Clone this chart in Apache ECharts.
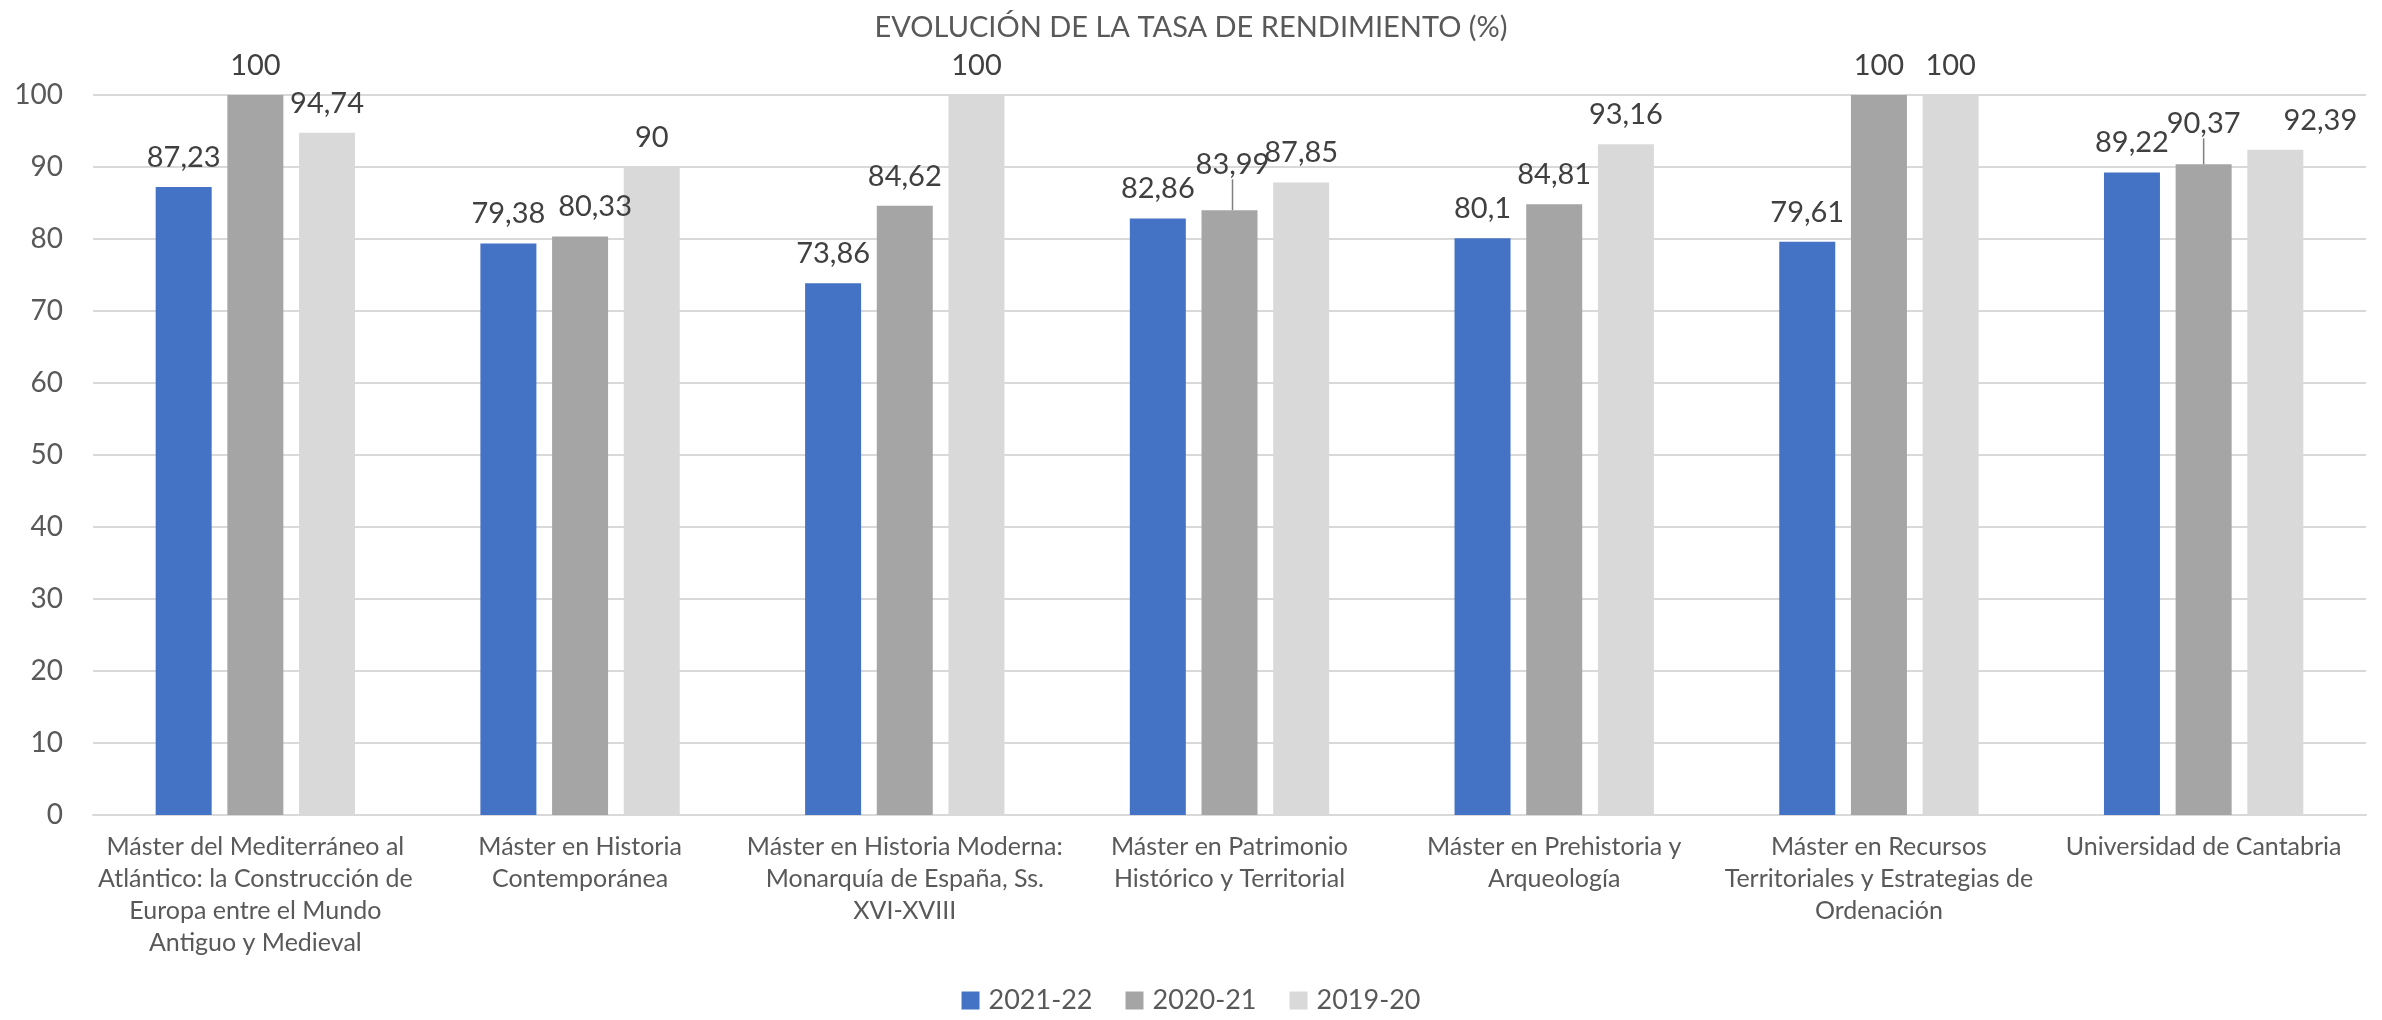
<!DOCTYPE html>
<html>
<head>
<meta charset="utf-8">
<script src="https://cdn.jsdelivr.net/npm/echarts@6/dist/echarts.min.js"></script>
<style>
  html, body { margin: 0; padding: 0; background: #fff; }
  #chart { width: 2382px; height: 1020px; }
</style>
</head>
<body>
<div id="chart"></div>
<script>
const categories = [
  'Máster del Mediterráneo al\nAtlántico: la Construcción de\nEuropa entre el Mundo\nAntiguo y Medieval',
  'Máster en Historia\nContemporánea',
  'Máster en Historia Moderna:\nMonarquía de España, Ss.\nXVI-XVIII',
  'Máster en Patrimonio\nHistórico y Territorial',
  'Máster en Prehistoria y\nArqueología',
  'Máster en Recursos\nTerritoriales y Estrategias de\nOrdenación',
  'Universidad de Cantabria'
]
const values2122 = [87.23, 79.38, 73.86, 82.86, 80.1, 79.61, 89.22]
const values2021 = [100, 80.33, 84.62, 83.99, 84.81, 100, 90.37]
const values1920 = [94.74, 90, 100, 87.85, 93.16, 100, 92.39]
// labels of 2020-21 that were pushed up with a leader line
const movedLabels = [3, 6]

const fontFamily = 'Lato, sans-serif'
const fmt = (p) => String(p.value).replace('.', ',')

const barLabel = {
  show: true,
  position: 'top',
  distance: 15,
  color: '#404040',
  fontSize: 29,
  fontFamily: fontFamily,
  formatter: fmt
}

const data2021 = values2021.map((v, i) =>
  movedLabels.includes(i) ? { value: v, labelLine: { show: true } } : v
)

const chart = echarts.init(document.getElementById('chart'))
chart.setOption({
  animation: false,
  backgroundColor: '#fff',
  textStyle: { fontFamily: fontFamily },
  title: {
    text: 'EVOLUCIÓN DE LA TASA DE RENDIMIENTO (%)',
    left: 'center',
    top: 8,
    textStyle: { color: '#595959', fontSize: 29, fontWeight: 'normal', fontFamily: fontFamily }
  },
  legend: {
    bottom: 1,
    left: 'center',
    icon: 'rect',
    itemWidth: 18,
    itemHeight: 18,
    itemGap: 33,
    textStyle: { color: '#595959', fontSize: 27, fontFamily: fontFamily, padding: [0, 0, 0, 4] },
    data: ['2021-22', '2020-21', '2019-20']
  },
  grid: { left: 93, right: 16, top: 95, bottom: 205 },
  xAxis: {
    type: 'category',
    data: categories,
    axisLine: { lineStyle: { color: '#d9d9d9', width: 2 } },
    axisTick: { show: false },
    axisLabel: {
      color: '#595959',
      fontSize: 25,
      lineHeight: 32,
      margin: 16,
      interval: 0,
      fontFamily: fontFamily
    }
  },
  yAxis: {
    type: 'value',
    min: 0,
    max: 100,
    interval: 10,
    axisLine: { show: false },
    axisTick: { show: false },
    splitLine: { lineStyle: { color: '#d9d9d9', width: 2 } },
    axisLabel: { color: '#595959', fontSize: 28, margin: 30, fontFamily: fontFamily }
  },
  series: [
    {
      name: '2021-22',
      type: 'bar',
      data: values2122,
      barWidth: 56,
      barGap: '28%',
      itemStyle: { color: '#4472C4' },
      label: barLabel
    },
    {
      name: '2020-21',
      type: 'bar',
      data: data2021,
      barWidth: 56,
      barGap: '28%',
      itemStyle: { color: '#A5A5A5' },
      label: barLabel,
      labelLine: { show: false, lineStyle: { color: '#7f7f7f', width: 1.5 } },
      labelLayout: (params) => {
        if (params.dataIndex === 1) return { dx: 15 }
        if (params.dataIndex === 3) return { dx: 3, dy: -16 }
        if (params.dataIndex === 6) return { dy: -11 }
        return {}
      }
    },
    {
      name: '2019-20',
      type: 'bar',
      data: values1920,
      barWidth: 56,
      barGap: '28%',
      itemStyle: { color: '#D9D9D9' },
      label: barLabel,
      labelLayout: (params) => {
        if (params.dataIndex === 6) return { dx: 45 }
        return {}
      }
    }
  ]
})
</script>
</body>
</html>
